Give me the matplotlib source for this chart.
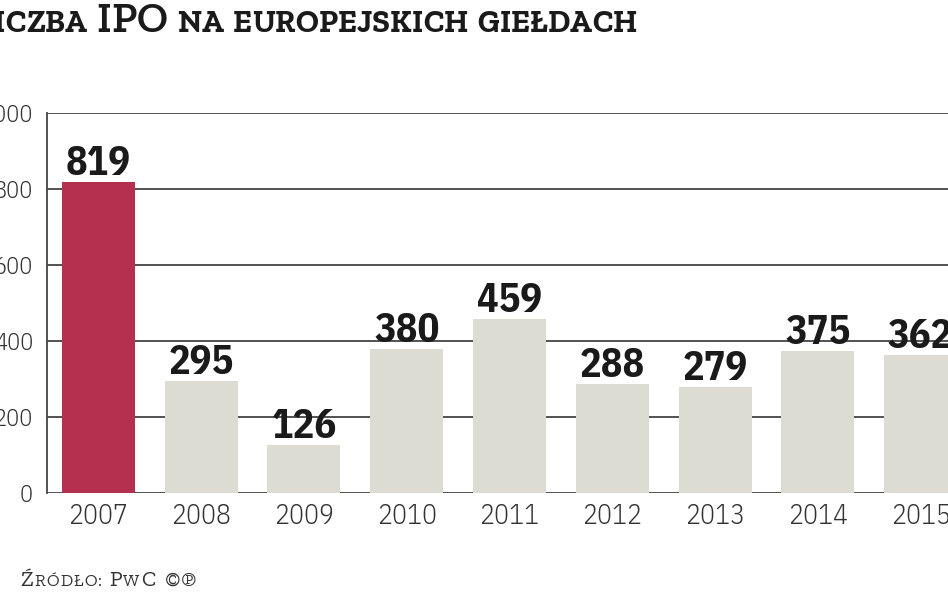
import matplotlib
matplotlib.use('Agg')
import matplotlib.pyplot as plt

years = ['2007', '2008', '2009', '2010', '2011', '2012', '2013', '2014', '2015']
ipos = [819, 295, 126, 380, 459, 288, 279, 375, 362]
yticks = [0, 200, 400, 600, 800, 1000]

narrow = ['IBM Plex Sans Condensed', 'Open Sans Condensed', 'DejaVu Sans']
serif = ['Roboto Slab', 'Zilla Slab', 'Arvo', 'DejaVu Serif', 'DejaVu Sans']

fig = plt.figure(figsize=(9.48, 5.93), dpi=100)
ax = fig.add_axes([47 / 948, 100 / 593, 925 / 948, 380 / 593])

colors = ['#b5304f'] + ['#dcdcd3'] * (len(years) - 1)
x = range(len(years))
ax.bar(x, ipos, width=0.71, color=colors, zorder=2)

for xi, v in zip(x, ipos):
    ax.annotate(str(v), (xi, v), xytext=(0, 5), textcoords='offset points',
                ha='center', va='baseline', fontsize=29, fontweight='bold',
                family=narrow, color='#1a1a1a', zorder=3)

ax.set_xlim(-0.5, 8.5)
ax.set_ylim(0, 1000)
ax.set_yticks(yticks)
ax.set_yticklabels([str(t) for t in yticks])
ax.set_xticks(list(x))
ax.set_xticklabels(years)
for lab in ax.get_xticklabels():
    lab.set_family(narrow)
    lab.set_fontsize(20)
    lab.set_fontweight(300)
    lab.set_color('#333333')
for lab in ax.get_yticklabels():
    lab.set_family(narrow)
    lab.set_fontsize(17.5)
    lab.set_fontweight(300)
    lab.set_color('#333333')
ax.tick_params(axis='both', length=0)
ax.tick_params(axis='y', pad=10)
ax.tick_params(axis='x', pad=7)
ax.yaxis.grid(True, color='#444444', linewidth=1.3, zorder=1)
ax.set_axisbelow(True)
for s in ['top', 'right', 'bottom']:
    ax.spines[s].set_visible(False)
ax.spines['left'].set_color('#444444')
ax.spines['left'].set_linewidth(1.3)


def spaced_text(parts, x0, x1, ybase, color):
    # small-caps look: pieces of different size, letters spread to fit x0..x1 (pixels)
    fig.canvas.draw()
    r = fig.canvas.get_renderer()
    chars = []
    for txt, size, weight in parts:
        for ch in txt:
            t = fig.text(0, 1 - ybase / 593, ch, fontsize=size, fontweight=weight,
                         family=serif, color=color, va='baseline')
            if ch == ' ':
                w = size * 0.3 * 100 / 72
            else:
                w = t.get_window_extent(renderer=r).width
            chars.append((t, w))
    natural = sum(w for _, w in chars)
    track = (x1 - x0 - natural) / (len(chars) - 1)
    xpos = x0
    for t, w in chars:
        t.set_x(xpos / 948)
        xpos += w + track


spaced_text([('LICZBA ', 23, 800), ('IPO', 31, 600),
             (' NA EUROPEJSKICH GIEŁDACH', 23, 800)],
            -24, 637, 32, '#1a1a1a')

spaced_text([('Ź', 16, 'normal'), ('RÓDŁO: ', 12.5, 'normal'), ('P', 16, 'normal'),
             ('W', 12.5, 'normal'), ('C ', 16, 'normal'), ('©℗', 18, 'normal')],
            20, 197, 586, '#333333')

fig.savefig('out.png', dpi=100)
